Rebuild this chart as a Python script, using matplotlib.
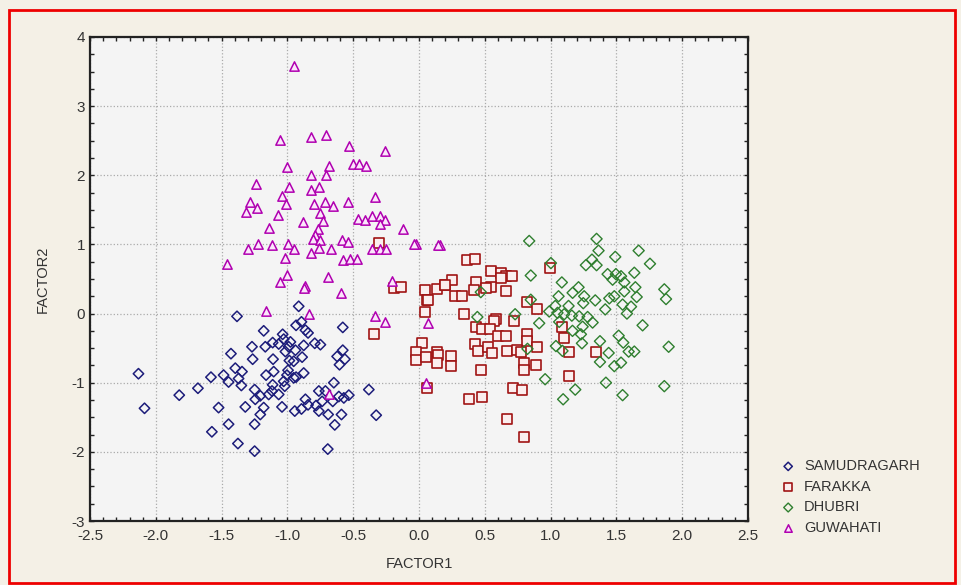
import numpy as np
import matplotlib
matplotlib.use("Agg")
import matplotlib.pyplot as plt
from matplotlib.ticker import MultipleLocator
from matplotlib.patches import Rectangle

# SAMUDRAGARH (blue diamonds)
sam_x = [-0.914, -1.383, -1.180, -1.036, -0.893, -0.934, -0.863, -0.843, -0.579, -1.269,
         -1.168, -1.112, -1.066, -1.028, -0.977, -0.990, -0.939, -1.015, -0.876, -0.792,
         -0.749, -1.429, -1.264, -1.109, -0.952, -0.888, -0.579, -0.622, -0.563, -0.604,
         -1.396, -1.345, -1.162, -1.104, -0.995, -1.003, -2.132, -1.581, -1.485, -1.371,
         -1.447, -1.350, -0.952, -1.028, -1.112, -1.020, -1.117, -1.066, -1.142, -1.206,
         -1.249, -1.680, -1.822, -1.244, -1.180, -1.320, -1.523, -2.086, -1.206, -1.447,
         -1.249, -1.574, -1.376, -1.249, -0.693, -1.041, -0.944, -0.893, -0.863, -0.843,
         -0.782, -0.761, -0.736, -0.761, -0.711, -0.690, -0.640, -0.589, -0.647, -0.655,
         -0.609, -0.571, -0.533, -0.381, -0.325, -0.985, -0.876, -0.934]
sam_y = [0.105, -0.04, -0.25, -0.30, -0.12, -0.17, -0.24, -0.28, -0.20, -0.48,
         -0.48, -0.42, -0.44, -0.37, -0.41, -0.48, -0.53, -0.55, -0.46, -0.43,
         -0.45, -0.58, -0.66, -0.66, -0.69, -0.63, -0.53, -0.62, -0.66, -0.74,
         -0.79, -0.84, -0.89, -0.84, -0.82, -0.89, -0.87, -0.92, -0.89, -0.94,
         -0.99, -1.04, -0.93, -0.98, -1.03, -1.05, -1.12, -1.17, -1.17, -1.19,
         -1.10, -1.08, -1.18, -1.24, -1.36, -1.35, -1.36, -1.37, -1.46, -1.60,
         -1.60, -1.71, -1.88, -1.99, -1.96, -1.35, -1.41, -1.38, -1.24, -1.32,
         -1.33, -1.41, -1.27, -1.12, -1.12, -1.46, -1.61, -1.46, -1.00, -1.27,
         -1.20, -1.22, -1.18, -1.10, -1.47, -0.68, -0.86, -0.92]

# FARAKKA (red squares)
far_x = [-0.343, -0.190, -0.140, 0.046, 0.140, 0.198, 0.063, 0.046, 0.020, -0.020,
         -0.020, 0.051, 0.140, 0.147, 0.140, 0.241, 0.241, 0.063, 0.274, 0.368,
         0.426, 0.551, 0.622, 0.665, 0.711, 0.622, 0.437, 0.419, 0.546, 0.660,
         0.254, 0.198, 0.325, 0.343, 0.820, 0.901, 0.995, 0.584, 0.571, 0.723,
         0.437, 0.482, 0.538, 0.604, 0.665, 0.825, 0.825, 1.086, 1.104, 0.426,
         0.452, 0.528, 0.553, 0.673, 0.749, 0.901, 1.142, 1.345, 0.071, 0.470,
         0.799, 0.799, 0.893, 1.137, 0.716, 0.787, 0.381, 0.482, 0.673, 0.799,
         0.774, 0.508, -0.307]
far_y = [-0.29, 0.37, 0.38, 0.34, 0.36, 0.41, 0.19, 0.02, -0.42, -0.56,
         -0.67, -0.63, -0.55, -0.60, -0.71, -0.61, -0.76, -1.08, 0.25, 0.78,
         0.79, 0.62, 0.58, 0.54, 0.54, 0.51, 0.45, 0.34, 0.38, 0.33,
         0.48, 0.42, 0.26, -0.01, 0.16, 0.06, 0.66, -0.08, -0.11, -0.11,
         -0.20, -0.23, -0.23, -0.33, -0.33, -0.30, -0.40, -0.20, -0.36, -0.44,
         -0.54, -0.49, -0.57, -0.54, -0.53, -0.49, -0.56, -0.56, 0.20, -0.81,
         -0.72, -0.81, -0.75, -0.90, -1.07, -1.11, -1.23, -1.20, -1.53, -1.78,
         -0.56, 0.37, 1.02]

# DHUBRI (green diamonds)
dhu_x = [0.838, 1.350, 1.365, 1.670, 1.492, 1.756, 1.315, 1.269, 1.350, 1.003,
         0.850, 1.086, 1.434, 1.497, 1.536, 1.637, 1.472, 1.561, 1.213, 1.645,
         1.865, 1.878, 1.061, 1.256, 1.340, 1.249, 1.447, 1.485, 1.561, 1.655,
         1.416, 1.548, 1.612, 1.581, 1.036, 1.137, 1.053, 0.990, 1.104, 1.162,
         0.850, 0.444, 0.731, 0.914, 1.066, 1.282, 1.320, 1.244, 1.700, 1.167,
         1.231, 1.239, 1.376, 1.518, 1.553, 1.041, 1.091, 0.825, 1.442, 1.594,
         1.637, 1.898, 1.376, 1.485, 1.536, 0.959, 1.421, 1.188, 1.096, 1.548,
         1.865, 0.470, 1.168, 1.218]
dhu_y = [1.05, 1.08, 0.91, 0.91, 0.82, 0.72, 0.78, 0.70, 0.70, 0.73,
         0.55, 0.45, 0.57, 0.57, 0.54, 0.59, 0.49, 0.45, 0.38, 0.38,
         0.35, 0.21, 0.25, 0.25, 0.19, 0.15, 0.22, 0.25, 0.32, 0.24,
         0.06, 0.13, 0.10, 0.00, 0.11, 0.11, 0.01, 0.03, -0.01, -0.03,
         0.20, -0.05, -0.01, -0.14, -0.12, -0.05, -0.13, -0.19, -0.17, -0.25,
         -0.30, -0.43, -0.40, -0.32, -0.42, -0.47, -0.54, -0.51, -0.57, -0.55,
         -0.55, -0.48, -0.70, -0.76, -0.71, -0.95, -1.00, -1.10, -1.24, -1.18,
         -1.05, 0.31, 0.30, -0.04]

# GUWAHATI (magenta triangles)
guw_x = [-0.949, -1.058, -0.820, -0.708, -0.530, -0.261, -1.005, -0.680, -0.500, -0.452,
         -0.404, -0.820, -0.708, -1.239, -0.987, -0.820, -0.761, -0.332, -1.043, -1.284,
         -1.315, -1.228, -1.013, -1.069, -0.797, -0.713, -0.655, -0.541, -0.751, -0.726,
         -0.878, -1.140, -0.467, -0.409, -0.358, -0.294, -0.261, -0.294, -0.124, -0.764,
         -0.789, -0.807, -0.751, -1.226, -1.297, -1.114, -0.992, -0.949, -1.018, -0.820,
         -0.756, -0.668, -0.586, -0.536, -0.579, -0.523, -0.472, -0.358, -0.294, -0.249,
         -0.023, 0.157, -1.462, -1.005, -1.056, -0.695, -0.865, -0.205, -0.870, -0.595,
         -1.162, -0.832, -0.335, -0.259, 0.071, -0.680, 0.051, -0.038, 0.147]
guw_y = [3.58, 2.51, 2.56, 2.58, 2.43, 2.35, 2.12, 2.14, 2.16, 2.17,
         2.14, 2.01, 2.00, 1.88, 1.83, 1.78, 1.83, 1.69, 1.70, 1.62,
         1.47, 1.52, 1.58, 1.42, 1.59, 1.61, 1.56, 1.61, 1.46, 1.34,
         1.33, 1.24, 1.37, 1.35, 1.41, 1.41, 1.35, 1.29, 1.22, 1.22,
         1.14, 1.08, 1.07, 1.01, 0.93, 0.99, 1.01, 0.94, 0.81, 0.87,
         0.95, 0.93, 1.06, 1.03, 0.77, 0.79, 0.79, 0.94, 0.94, 0.94,
         1.01, 0.99, 0.71, 0.56, 0.46, 0.53, 0.40, 0.47, 0.37, 0.30,
         0.04, 0.00, -0.04, -0.12, -0.14, -1.16, -1.01, 1.00, 0.99]

x_ticks = [-2.5, -2.0, -1.5, -1.0, -0.5, 0.0, 0.5, 1.0, 1.5, 2.0, 2.5]
y_ticks = [-3, -2, -1, 0, 1, 2, 3, 4]

plt.rcParams['font.family'] = ['Liberation Sans', 'DejaVu Sans']
plt.rcParams['axes.unicode_minus'] = False

fig = plt.figure(figsize=(9.61, 5.85), dpi=100)
fig.patch.set_facecolor('#f4f0e6')
ax = fig.add_axes([0.0937, 0.1094, 0.6845, 0.8274])
ax.set_facecolor('#f4f4f4')

ax.scatter(sam_x, sam_y, marker='D', s=28, facecolors='none', edgecolors='#1c1c7a',
           linewidths=1.1, label='SAMUDRAGARH', zorder=3)
ax.scatter(far_x, far_y, marker='s', s=50, facecolors='#fbeeee', edgecolors='#a01414',
           linewidths=1.2, label='FARAKKA', zorder=3)
ax.scatter(dhu_x, dhu_y, marker='D', s=32, facecolors='none', edgecolors='#2f7f2f',
           linewidths=1.0, label='DHUBRI', zorder=3)
ax.scatter(guw_x, guw_y, marker='^', s=45, facecolors='#fbe6fb', edgecolors='#b000b0',
           linewidths=1.1, label='GUWAHATI', zorder=3)

ax.set_xlim(-2.5, 2.5)
ax.set_ylim(-3, 4)
ax.set_xticks(x_ticks)
ax.set_xticklabels(['%.1f' % v for v in x_ticks])
ax.set_yticks(y_ticks)
ax.xaxis.set_minor_locator(MultipleLocator(0.1))
ax.yaxis.set_minor_locator(MultipleLocator(0.25))
ax.tick_params(which='both', direction='in', top=True, right=True, length=3,
               width=1, colors='#222222', labelcolor='#333333', labelsize=11)
ax.tick_params(axis='x', pad=6)
ax.grid(True, which='major', linestyle=':', color='#aaaaaa', linewidth=0.9)
for sp in ax.spines.values():
    sp.set_linewidth(1.6)
    sp.set_color('#222222')

ax.set_xlabel('FACTOR1', fontsize=10.5, color='#333333', labelpad=10)
ax.set_ylabel('FACTOR2', fontsize=10.5, color='#333333', labelpad=16)

leg = ax.legend(loc='upper left', bbox_to_anchor=(0.805, 0.225), bbox_transform=fig.transFigure,
                frameon=False, fontsize=10.5, handletextpad=0.5, labelspacing=0.45,
                borderaxespad=0, handlelength=1.2, markerscale=0.8)
for t in leg.get_texts():
    t.set_color('#333333')

fig.patches.append(Rectangle((0.009, 0.004), 0.985, 0.979, transform=fig.transFigure,
                             fill=False, edgecolor='#ee0000', linewidth=2))

fig.savefig('out.png', dpi=100, facecolor=fig.get_facecolor())
